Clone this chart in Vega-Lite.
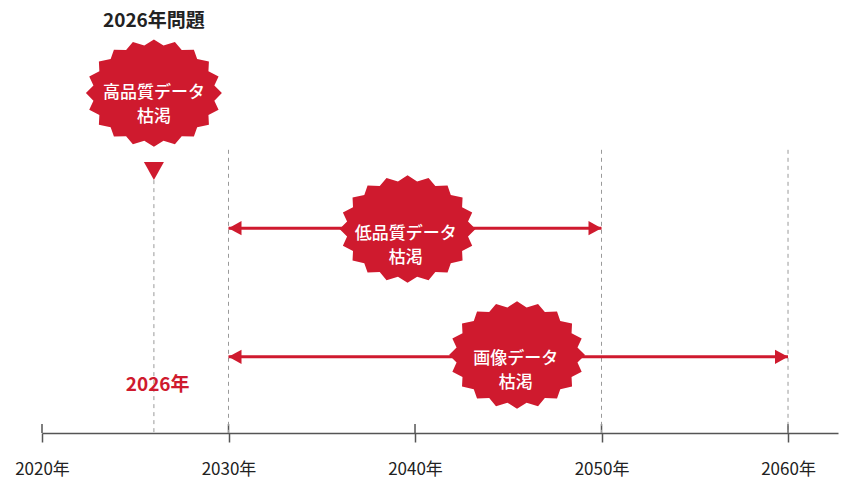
{
  "$schema": "https://vega.github.io/schema/vega-lite/v6.json",
  "width": 796,
  "height": 433,
  "autosize": "none",
  "padding": {"left": 42, "right": 13, "top": 0, "bottom": 52},
  "background": "white",
  "config": {"view": {"stroke": null}, "font": "Noto Sans CJK JP"},
  "datasets": {
    "ticks": [{"year": 2020}, {"year": 2030}, {"year": 2040}, {"year": 2050}, {"year": 2060}],
    "guides": [
      {"year": 2026, "top": 5.84},
      {"year": 2030, "top": 6.54},
      {"year": 2050, "top": 6.54},
      {"year": 2060, "top": 6.54}
    ],
    "arrows": [
      {"start": 2030, "end": 2050, "level": 4.73},
      {"start": 2030, "end": 2060, "level": 1.76}
    ],
    "marker": [{"year": 2026, "level": 6.05}],
    "bursts": [
      {"year": 2026.0, "level": 7.85, "tx": 2026.0, "ty": 7.85, "label": "高品質データ\n枯渇"},
      {"year": 2039.6, "level": 4.71, "tx": 2039.5, "ty": 4.6, "label": "低品質データ\n枯渇"},
      {"year": 2045.47, "level": 1.8, "tx": 2045.4, "ty": 1.71, "label": "画像データ\n枯渇"}
    ],
    "title": [{"year": 2026, "level": 9.51, "label": "2026年問題"}],
    "redyear": [{"year": 2026.2, "level": 1.11, "label": "2026年"}]
  },
  "layer": [
    {
      "data": {"name": "ticks"},
      "mark": {"type": "rule", "color": "#555555", "strokeWidth": 1.5},
      "encoding": {
        "x": {
          "field": "year", "type": "quantitative",
          "scale": {"domain": [2020, 2062.68], "nice": false, "zero": false},
          "axis": {
            "title": null, "values": [2020, 2030, 2040, 2050, 2060],
            "labelExpr": "datum.value + '年'", "labelFlush": false,
            "grid": false, "domainColor": "#555555", "domainWidth": 1.5,
            "tickColor": "#555555", "tickWidth": 1.5, "tickSize": 9,
            "labelFontSize": 17, "labelColor": "#222222", "labelPadding": 19,
            "labelFont": "Noto Sans CJK JP"
          }
        },
        "y": {"datum": 0, "type": "quantitative", "scale": {"domain": [0, 10], "nice": false, "zero": false}, "axis": null},
        "y2": {"datum": 0.21}
      }
    },
    {
      "data": {"name": "guides"},
      "mark": {"type": "rule", "color": "#9a9a9a", "strokeWidth": 1, "strokeDash": [4, 4]},
      "encoding": {
        "x": {"field": "year", "type": "quantitative", "title": null},
        "y": {"field": "top", "type": "quantitative", "axis": null},
        "y2": {"datum": 0}
      }
    },
    {
      "data": {"name": "arrows"},
      "mark": {"type": "rule", "color": "#cf1a2e", "strokeWidth": 3},
      "encoding": {
        "x": {"field": "start", "type": "quantitative", "title": null},
        "x2": {"field": "end"},
        "y": {"field": "level", "type": "quantitative", "axis": null}
      }
    },
    {
      "data": {"name": "arrows"},
      "transform": [{"fold": ["start", "end"], "as": ["side", "year"]}],
      "mark": {"type": "point", "filled": true, "opacity": 1, "color": "#cf1a2e", "size": 676},
      "encoding": {
        "x": {"field": "year", "type": "quantitative", "title": null},
        "y": {"field": "level", "type": "quantitative", "axis": null},
        "shape": {
          "field": "side", "type": "nominal", "legend": null,
          "scale": {"domain": ["start", "end"], "range": ["M0,0L1,-0.55L1,0.55Z", "M0,0L-1,-0.55L-1,0.55Z"]}
        }
      }
    },
    {
      "data": {"name": "marker"},
      "mark": {"type": "point", "filled": true, "opacity": 1, "color": "#cf1a2e", "size": 400, "shape": "M-1,-0.9L1,-0.9L0,0.9Z"},
      "encoding": {
        "x": {"field": "year", "type": "quantitative", "title": null},
        "y": {"field": "level", "type": "quantitative", "axis": null}
      }
    },
    {
      "data": {"name": "bursts"},
      "mark": {
        "type": "point", "filled": true, "opacity": 1, "color": "#cf1a2e", "size": 18496,
        "shape": "M1,0L0.889,0.111L0.951,0.244L0.802,0.322L0.809,0.464L0.636,0.502L0.588,0.639L0.409,0.633L0.309,0.751L0.141,0.701L0,0.79L-0.141,0.701L-0.309,0.751L-0.409,0.633L-0.588,0.639L-0.636,0.502L-0.809,0.464L-0.802,0.322L-0.951,0.244L-0.889,0.111L-1,0L-0.889,-0.111L-0.951,-0.244L-0.802,-0.322L-0.809,-0.464L-0.636,-0.502L-0.588,-0.639L-0.409,-0.633L-0.309,-0.751L-0.141,-0.701L0,-0.79L0.141,-0.701L0.309,-0.751L0.409,-0.633L0.588,-0.639L0.636,-0.502L0.809,-0.464L0.802,-0.322L0.951,-0.244L0.889,-0.111Z"
      },
      "encoding": {
        "x": {"field": "year", "type": "quantitative", "title": null},
        "y": {"field": "level", "type": "quantitative", "axis": null}
      }
    },
    {
      "data": {"name": "bursts"},
      "mark": {"type": "text", "color": "white", "fontSize": 17, "lineHeight": 24, "lineBreak": "\n", "align": "center", "baseline": "middle", "font": "Noto Sans CJK JP", "fontWeight": 500},
      "encoding": {
        "x": {"field": "tx", "type": "quantitative", "title": null},
        "y": {"field": "ty", "type": "quantitative", "axis": null},
        "text": {"field": "label"}
      }
    },
    {
      "data": {"name": "title"},
      "mark": {"type": "text", "color": "#222222", "fontSize": 19, "fontWeight": "bold", "align": "center", "baseline": "middle", "font": "Noto Sans CJK JP"},
      "encoding": {
        "x": {"field": "year", "type": "quantitative", "title": null},
        "y": {"field": "level", "type": "quantitative", "axis": null},
        "text": {"field": "label"}
      }
    },
    {
      "data": {"name": "redyear"},
      "mark": {"type": "text", "color": "#cf1a2e", "fontSize": 19, "fontWeight": "bold", "align": "center", "baseline": "middle", "font": "Noto Sans CJK JP"},
      "encoding": {
        "x": {"field": "year", "type": "quantitative", "title": null},
        "y": {"field": "level", "type": "quantitative", "axis": null},
        "text": {"field": "label"}
      }
    }
  ]
}
